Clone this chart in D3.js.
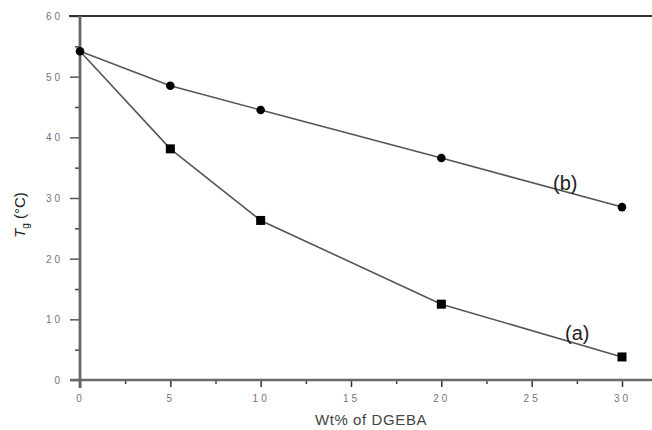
<!DOCTYPE html>
<html>
<head>
<meta charset="utf-8">
<script src="https://cdn.jsdelivr.net/npm/d3@7"></script>
<style>
body { margin: 0; background: #fff; }
svg { display: block; font-family: 'Liberation Sans', Arial, sans-serif; }
.tick text { fill: #7a7080; font-size: 10px; letter-spacing: 3px; }
</style>
</head>
<body>
<svg></svg>
<script>
let width = 652
let height = 430

// Wt% of DGEBA
let wt = [0, 5, 10, 20, 30]
// Tg (°C) for each curve
let seriesA = [54.2, 38.1, 26.3, 12.5, 3.8]
let seriesB = [54.2, 48.5, 44.5, 36.6, 28.5]
let xTicks = [0, 5, 10, 15, 20, 25, 30]
let yTicks = [0, 10, 20, 30, 40, 50, 60]

let svg = d3.select('svg')
    .attr('width', width)
    .attr('height', height)

let x = d3.scaleLinear().domain([0, 30]).range([80, 622])
let y = d3.scaleLinear().domain([0, 60]).range([380, 16])

// minor ticks
svg.append('g')
    .attr('transform', `translate(0,${y(0)})`)
    .call(d3.axisBottom(x).tickValues(d3.range(2.5, 35, 5)).tickSize(4).tickFormat(''))
    .call(g => g.select('.domain').remove())
    .call(g => g.selectAll('line').attr('stroke', '#444').attr('stroke-width', 1.5))
svg.append('g')
    .attr('transform', `translate(${x(0)},0)`)
    .call(d3.axisLeft(y).tickValues(d3.range(5, 60, 10)).tickSize(5).tickFormat(''))
    .call(g => g.select('.domain').remove())
    .call(g => g.selectAll('line').attr('stroke', '#444').attr('stroke-width', 1.5))

// major ticks
svg.append('g')
    .attr('transform', `translate(0,${y(0)})`)
    .call(d3.axisBottom(x).tickValues(xTicks).tickSize(7).tickPadding(8))
    .call(g => g.select('.domain').remove())
    .call(g => g.selectAll('line').attr('stroke', '#333').attr('stroke-width', 1.5))
svg.append('g')
    .attr('transform', `translate(${x(0)},0)`)
    .call(d3.axisLeft(y).tickValues(yTicks).tickSize(10).tickPadding(7))
    .call(g => g.select('.domain').remove())
    .call(g => g.selectAll('line').attr('stroke', '#555').attr('stroke-width', 1.5))
    .call(g => g.selectAll('text').attr('dy', '0.35em'))

// frame lines
svg.append('line')
    .attr('x1', x(0) - 10).attr('x2', width)
    .attr('y1', y(0)).attr('y2', y(0))
    .attr('stroke', '#6a6a6a').attr('stroke-width', 2.5)
svg.append('line')
    .attr('x1', x(0) - 11).attr('x2', width)
    .attr('y1', y(60)).attr('y2', y(60))
    .attr('stroke', '#333').attr('stroke-width', 2)
svg.append('line')
    .attr('x1', x(0)).attr('x2', x(0))
    .attr('y1', y(60)).attr('y2', y(0) + 8)
    .attr('stroke', '#666').attr('stroke-width', 2.8)

let line = d3.line()
    .x((d, i) => x(wt[i]))
    .y(d => y(d))

;[seriesA, seriesB].forEach(s => {
    svg.append('path')
        .datum(s)
        .attr('fill', 'none')
        .attr('stroke', '#555')
        .attr('stroke-width', 1.6)
        .attr('d', line)
})

svg.append('g').selectAll('rect')
    .data(seriesA.slice(1)).enter()
    .append('rect')
    .attr('x', (d, i) => x(wt[i + 1]) - 4.5)
    .attr('y', d => y(d) - 4.5)
    .attr('width', 9)
    .attr('height', 9)
    .attr('fill', '#000')

svg.append('g').selectAll('circle')
    .data(seriesB).enter()
    .append('circle')
    .attr('cx', (d, i) => x(wt[i]))
    .attr('cy', d => y(d))
    .attr('r', 4.3)
    .attr('fill', '#000')

// curve labels
svg.append('text')
    .attr('x', 553).attr('y', 190)
    .attr('font-size', 20)
    .attr('fill', '#222')
    .text('(b)')
svg.append('text')
    .attr('x', 565).attr('y', 340)
    .attr('font-size', 20)
    .attr('fill', '#222')
    .text('(a)')

// axis titles
svg.append('text')
    .attr('x', 371).attr('y', 425)
    .attr('text-anchor', 'middle')
    .attr('font-size', 15)
    .attr('fill', '#444')
    .attr('letter-spacing', 0.6)
    .text('Wt% of DGEBA')

let yt = svg.append('text')
    .attr('transform', 'translate(25,215) rotate(-90)')
    .attr('text-anchor', 'middle')
    .attr('font-size', 15)
    .attr('fill', '#222')
yt.append('tspan').attr('font-style', 'italic').text('T')
yt.append('tspan').attr('font-size', 10).attr('dy', 4).text('g')
yt.append('tspan').attr('dy', -4).text(' (°C)')
</script>
</body>
</html>
